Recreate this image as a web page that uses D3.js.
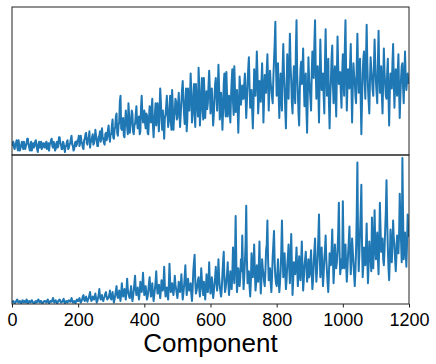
<!DOCTYPE html>
<html>
<head>
<meta charset="utf-8">
<script src="https://cdn.jsdelivr.net/npm/d3@7"></script>
<style>
body { margin: 0; background: #fff; }
svg { display: block; font-family: Arial, "Liberation Sans", sans-serif; }
</style>
</head>
<body>
<svg width="436" height="364"></svg>
<script>
var step = 2;
var xTicks = [0, 200, 400, 600, 800, 1000, 1200];

var topValues = [
    6,8,9,5,4,7,8,10,5,3,10,6,3,5,7,9,6,4,9,7,4,6,8,11,11,7,5,3,7,9,3,6,8,5,6,9,10,7,4,2,7,9,5,6,9,4,6,8,8,5,
    5,8,9,4,6,8,3,7,8,10,11,6,5,9,7,3,4,8,9,5,6,12,12,8,7,4,4,9,8,5,2,6,6,9,10,4,5,7,8,11,13,7,6,3,4,8,9,6,7,10,
    10,13,6,8,13,9,8,5,4,10,11,14,15,8,7,11,12,16,5,9,9,12,14,7,8,11,17,13,10,6,6,12,13,16,9,11,18,12,11,8,7,14,15,10,12,17,20,13,9,14,
    14,20,24,12,11,17,19,26,28,15,13,20,22,36,40,18,17,24,25,13,12,22,30,24,19,14,35,27,15,19,23,30,28,16,14,20,21,27,33,22,18,25,26,14,16,32,40,28,22,26,
    30,22,18,28,27,15,14,24,33,26,22,31,38,20,12,22,28,35,20,29,35,24,16,30,45,36,24,17,30,21,11,25,27,33,40,28,19,23,32,40,23,17,44,33,17,26,29,38,36,24,
    25,34,42,30,19,27,36,44,50,38,28,21,33,45,16,24,45,35,30,40,55,42,22,29,38,48,27,19,48,37,34,26,59,46,20,30,40,52,31,24,52,40,25,36,43,31,35,47,57,44,
    28,38,45,32,20,27,38,48,52,40,30,44,61,46,24,30,42,33,17,29,48,55,33,26,56,41,26,34,40,30,22,39,50,58,36,27,60,44,29,38,44,32,15,31,53,45,34,40,47,38,
    38,48,55,40,25,36,48,58,66,47,32,40,44,30,18,34,58,49,40,52,70,55,28,37,50,44,36,49,62,45,22,38,54,47,42,57,68,50,30,44,57,48,45,39,35,52,64,75,90,60,
    40,52,62,41,25,44,55,38,30,58,75,56,45,30,18,42,68,50,38,62,82,60,50,35,28,47,60,44,35,70,91,55,42,28,20,44,58,63,48,56,72,50,33,45,55,30,15,40,66,52,
    45,38,30,55,70,60,52,75,91,60,38,49,60,42,22,50,78,58,44,50,55,40,28,62,85,57,40,52,65,35,18,40,50,66,74,48,35,52,60,40,26,55,80,60,48,53,56,42,32,55,
    68,50,40,72,91,56,30,46,58,50,45,62,75,46,22,44,62,54,50,40,35,60,82,58,42,55,65,38,14,36,55,65,70,50,38,64,88,62,46,36,28,50,66,58,52,44,40,60,78,62,
    50,42,35,62,84,58,42,52,60,40,28,50,72,56,48,40,38,55,65,40,20,42,55,48,45,62,75,50,32,48,58,46,40,56,68,44,25,40,52,60,62,46,35,54,70,52,44,50,55,48
];

var bottomValues = [
    1,1.5,2,1,0.5,1,1.5,2.5,3,1.5,1,1.5,2,1,0.5,1.5,2.5,1.5,1,2,1.5,1,3,2,0.5,1,2,1.5,1,2,2.5,1.5,1,0.5,0.5,1.5,2,1,1.5,2.5,3,1.5,1,2,2,1,0.5,1,1.5,2,
    2,1.5,1,2,3,1.5,0.5,1,2,1.5,1.5,2.5,4,2,1,1.5,2.5,1.5,0.5,1,2,2.5,3,2,1,1.5,1.5,2.5,3.5,1.5,0.5,1,2,1.5,1,2,2.5,2,1.5,2,4,2,1,1.5,2,1,0.5,2,3,2,
    2,3,4,2,1,2,3,5,6,3,2,4,5,3,1.5,3,4,6,8,4,2,3,5,4,3,5,7,4,1,2,4,6,10,5,3,4,6,3,2,4,5,7,8,5,3,4,4,6,9,5,
    3,5,8,4,1,3,6,9,12,6,4,6,9,5,2,7,14,8,5,7,10,6,3,9,17,10,7,5,4,8,12,6,2,5,9,14,19,10,6,8,11,6,3,8,15,10,8,12,21,12,
    6,9,12,7,3,5,9,14,18,10,5,8,14,7,2,6,10,15,22,12,7,9,13,8,4,9,16,12,9,14,25,12,5,8,11,6,3,12,27,15,8,10,14,9,6,11,19,13,10,7,
    4,9,15,10,8,12,20,11,3,7,12,18,26,14,6,10,17,12,9,11,14,7,2,10,22,28,33,15,7,9,12,16,18,10,5,12,24,16,10,6,15,9,3,10,20,12,8,15,28,14,
    7,11,18,10,4,8,14,18,25,14,9,16,30,18,12,8,5,10,20,28,35,16,8,11,16,20,28,14,6,12,22,16,10,20,38,22,14,30,59,28,8,14,24,16,12,18,30,22,46,24,
    10,18,28,40,66,30,14,17,22,12,5,15,34,24,18,26,40,22,9,14,26,20,15,24,42,20,7,16,30,24,20,15,12,22,36,40,56,30,16,18,24,14,8,18,32,40,49,28,18,14,
    12,20,30,16,8,14,22,36,56,34,18,24,34,20,10,16,26,32,40,24,14,30,47,26,6,16,28,22,20,28,38,24,12,20,32,22,16,28,42,24,9,16,26,30,35,24,15,20,30,18,
    20,28,36,20,10,16,28,36,44,26,15,22,32,45,60,34,18,26,38,24,12,20,30,36,46,30,22,14,8,20,34,28,26,36,50,30,14,24,40,30,24,28,36,48,68,36,20,24,30,24,
    69,40,24,30,40,26,15,24,34,42,52,34,20,30,44,36,28,20,12,22,36,60,95,44,22,34,48,62,80,40,18,26,38,30,26,38,54,30,14,26,42,34,30,22,58,40,24,40,63,40,
    30,38,48,30,20,40,68,50,35,40,44,30,26,36,50,62,83,56,38,24,16,30,50,38,28,40,56,44,40,30,22,32,46,38,34,46,74,56,42,28,98,60,30,38,48,36,25,40,60,45
];

var svg = d3.select("svg");
var left = 12, right = 409;
var panels = [
    {values: topValues, y0: 7, y1: 155},
    {values: bottomValues, y0: 155, y1: 304}
];

var x = d3.scaleLinear().domain([0, 1200]).range([left, right]);

panels.forEach(function (p, i) {
    var y = d3.scaleLinear().domain([0, 100]).range([p.y1, p.y0]);

    svg.append("clipPath").attr("id", "clip" + i)
        .append("rect")
        .attr("x", left).attr("y", p.y0)
        .attr("width", right - left).attr("height", p.y1 - p.y0);

    var line = d3.line()
        .x(function (d, j) { return x(j * step); })
        .y(function (d) { return y(d); });

    svg.append("path")
        .datum(p.values)
        .attr("clip-path", "url(#clip" + i + ")")
        .attr("fill", "none")
        .attr("stroke", "#1f77b4")
        .attr("stroke-width", 2)
        .attr("stroke-linejoin", "round")
        .attr("d", line);

    svg.append("rect")
        .attr("x", left).attr("y", p.y0)
        .attr("width", right - left).attr("height", p.y1 - p.y0)
        .attr("fill", "none")
        .attr("stroke", "#222")
        .attr("stroke-width", 1);
});

var axis = svg.append("g")
    .attr("transform", "translate(0,304)")
    .call(d3.axisBottom(x).tickValues(xTicks).tickFormat(d3.format("d"))
        .tickSize(3.5).tickSizeOuter(0).tickPadding(5.5));

axis.select(".domain").remove();
axis.selectAll(".tick line").attr("stroke", "#222");
axis.selectAll(".tick text")
    .attr("fill", "#000")
    .style("font-size", "18px")
    .style("font-family", "Arial, 'Liberation Sans', sans-serif");

svg.append("text")
    .attr("x", (left + right) / 2)
    .attr("y", 352)
    .attr("text-anchor", "middle")
    .style("font-size", "26px")
    .text("Component");
</script>
</body>
</html>
